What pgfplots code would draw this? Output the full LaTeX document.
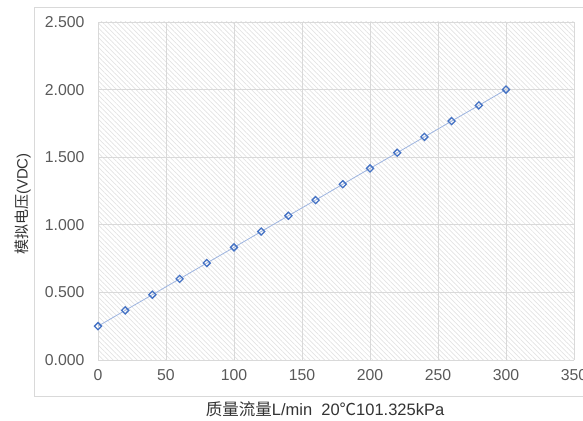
\documentclass[border=0pt]{standalone}
\usepackage{fontspec}
\setmainfont{Liberation Sans}
\newfontfamily\cjk{Noto Sans CJK SC}
\usepackage{pgfplots}
\pgfplotsset{compat=1.18}
\usetikzlibrary{patterns.meta}
\definecolor{txt}{HTML}{595959}
\definecolor{gridc}{HTML}{D9D9D9}
\definecolor{mk}{HTML}{4472C4}
\definecolor{ln}{HTML}{9DB4E0}
\begin{document}
\begin{tikzpicture}
\path[use as bounding box] (0pt,0pt) rectangle (583pt,420pt);
\draw[gridc, line width=1pt] (590pt,412pt) -- (34pt,412pt) -- (34pt,24pt) -- (590pt,24pt);
\begin{axis}[
  at={(98pt,60pt)}, anchor=south west,
  scale only axis, width=476pt, height=338pt,
  xmin=0, xmax=350, ymin=0, ymax=2.5,
  xtick={0,50,...,350}, ytick={0,0.5,...,2.5},
  axis line style={draw=none},
  tick style={draw=none},
  grid=major,
  major grid style={gridc, line width=0.9pt},
  axis background/.style={pattern={Lines[angle=135,distance=3.4pt,line width=0.7pt]}, pattern color=gray!22},
  ticklabel style={font=\fontsize{15.8}{18}\selectfont, text=txt},
  /pgf/number format/assume math mode=true,
  yticklabel style={/pgf/number format/fixed, /pgf/number format/fixed zerofill, /pgf/number format/precision=3, xshift=-10pt},
  scaled y ticks=false,
  xticklabel style={yshift=-6pt},
  xlabel={{\cjk 质量流量}L/min\ \ 20{\cjk ℃}101.325kPa},
  ylabel={{\cjk 模拟电压}(VDC)},
  xlabel style={font=\fontsize{16.5}{18}\selectfont, text=black!80, at={([yshift=-49pt]axis description cs:0.477,0)}, anchor=center},
  ylabel style={font=\fontsize{15}{18}\selectfont, text=black!80, at={([xshift=-75pt]axis description cs:0,0.4615)}, anchor=center},
  clip=false,
]
\addplot[ln, line width=0.8pt, mark=square, mark size=2.5pt,
  mark options={draw=mk, fill=white, line width=1.3pt, rotate=45}]
  coordinates {
  (0,0.250) (20,0.367) (40,0.483) (60,0.600) (80,0.717) (100,0.833)
  (120,0.950) (140,1.067) (160,1.183) (180,1.300) (200,1.417) (220,1.533)
  (240,1.650) (260,1.767) (280,1.883) (300,2.000)
  };
\end{axis}
\end{tikzpicture}
\end{document}
